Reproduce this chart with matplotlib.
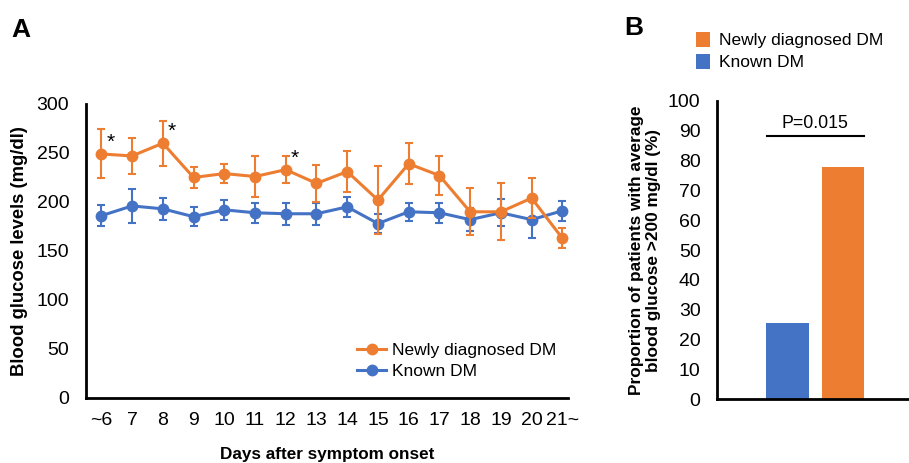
import numpy as np
import matplotlib.pyplot as plt
from matplotlib.lines import Line2D

plt.rcParams['font.family'] = ['Liberation Sans', 'DejaVu Sans']

# Panel A data
days = [6, 7, 8, 9, 10, 11, 12, 13, 14, 15, 16, 17, 18, 19, 20, 21]
day_labels = ['~6', '7', '8', '9', '10', '11', '12', '13', '14', '15', '16', '17', '18', '19', '20', '21~']

new_mean = [249, 247, 260, 225, 229, 226, 233, 219, 231, 202, 239, 227, 190, 190, 204, 163]
new_err = [25, 18, 23, 11, 10, 21, 14, 19, 21, 35, 21, 20, 24, 29, 20, 10]

known_mean = [186, 196, 193, 185, 192, 189, 188, 188, 195, 178, 190, 189, 182, 189, 182, 191]
known_err = [11, 17, 11, 10, 10, 10, 11, 11, 10, 10, 9, 10, 12, 14, 19, 10]

star_days = [6, 8, 12]

# Panel B data
groups = ['Known DM', 'Newly diagnosed DM']
proportions = [25.6, 77.8]
p_text = 'P=0.015'

orange = '#ED7D31'
blue = '#4472C4'

fig = plt.figure(figsize=(9.09, 4.63), dpi=100)

# ---- Panel A ----
ax = fig.add_axes([0.0946, 0.1404, 0.5308, 0.635])
ax.errorbar(days, new_mean, yerr=new_err, color=orange, marker='o', markersize=7.5,
            linewidth=2.2, elinewidth=1.5, capsize=3, capthick=1.5, zorder=3)
ax.errorbar(days, known_mean, yerr=known_err, color=blue, marker='o', markersize=7.5,
            linewidth=2.2, elinewidth=1.5, capsize=3, capthick=1.5, zorder=2)

for d in star_days:
    i = days.index(d)
    ax.text(d + 0.3, new_mean[i] + 2, '*', fontsize=15, ha='center', va='bottom')

ax.set_xlim(5.5, 21.2)
ax.set_ylim(0, 300)
ax.set_yticks(range(0, 301, 50))
ax.set_xticks(days)
ax.set_xticklabels(day_labels)
ax.tick_params(axis='both', length=0, labelsize=14)
ax.tick_params(axis='y', pad=12)
ax.tick_params(axis='x', pad=10)
for s in ['top', 'right']:
    ax.spines[s].set_visible(False)
for s in ['left', 'bottom']:
    ax.spines[s].set_linewidth(2)
ax.set_ylabel('Blood glucose levels (mg/dl)', fontsize=13.3, fontweight='bold', labelpad=6)
ax.set_xlabel('Days after symptom onset', fontsize=12.3, fontweight='bold', labelpad=13)

handles = [Line2D([], [], color=orange, marker='o', markersize=7.5, linewidth=2.2),
           Line2D([], [], color=blue, marker='o', markersize=7.5, linewidth=2.2)]
ax.legend(handles, ['Newly diagnosed DM', 'Known DM'], loc='lower right',
          bbox_to_anchor=(1.008, 0.012), frameon=False, fontsize=12.5,
          handlelength=1.7, handletextpad=0.35, labelspacing=0.35)

fig.text(0.012, 0.92, 'A', fontsize=19, fontweight='bold')

# ---- Panel B ----
bx = fig.add_axes([0.789, 0.138, 0.211, 0.644])
bars = bx.bar([0, 1], proportions, width=0.77, color=[blue, orange], zorder=2)
bx.set_xlim(-1.27, 2.19)
bx.set_ylim(0, 100)
bx.set_yticks(range(0, 101, 10))
bx.set_xticks([])
bx.tick_params(axis='y', length=0, labelsize=14, pad=12)
for s in ['top', 'right']:
    bx.spines[s].set_visible(False)
for s in ['left', 'bottom']:
    bx.spines[s].set_linewidth(2)
bx.set_ylabel('Proportion of patients with average\nblood glucose >200 mg/dl (%)',
              fontsize=12.4, fontweight='bold', labelpad=5, linespacing=1.2)

bx.plot([-0.37, 1.37], [88.3, 88.3], color='black', linewidth=1.5)
bx.text(0.5, 89.5, p_text, ha='center', va='bottom', fontsize=12.8)

bx.legend([bars[1], bars[0]], [groups[1], groups[0]], loc='lower left',
          bbox_to_anchor=(-0.19, 1.05), frameon=False, fontsize=12.5,
          handlelength=0.8, handleheight=1.0, handletextpad=0.5, labelspacing=0.3)

fig.text(0.687, 0.925, 'B', fontsize=19, fontweight='bold')

fig.savefig('out.png', dpi=100)
